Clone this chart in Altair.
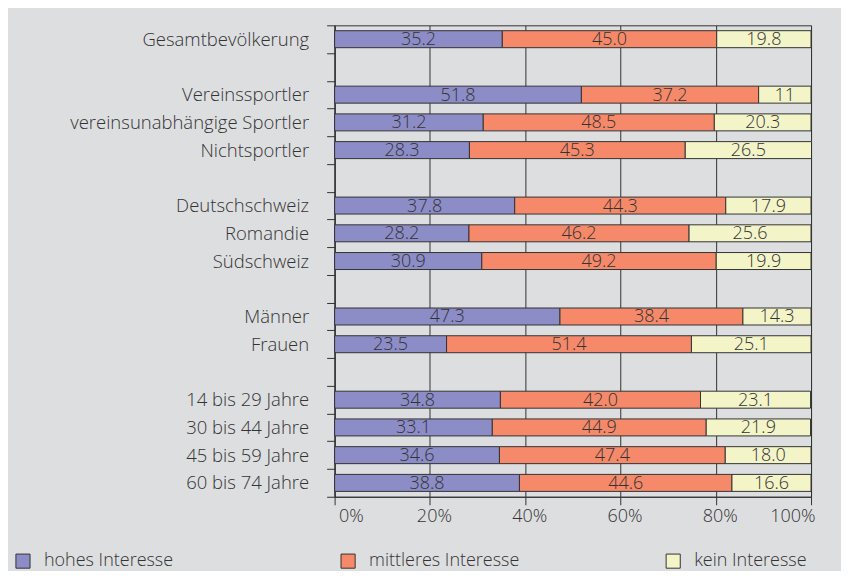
import altair as alt
import pandas as pd

categories = ["Gesamtbevölkerung", " ", "Vereinssportler", "vereinsunabhängige Sportler",
              "Nichtsportler", "  ", "Deutschschweiz", "Romandie", "Südschweiz", "   ",
              "Männer", "Frauen", "    ", "14 bis 29 Jahre", "30 bis 44 Jahre",
              "45 bis 59 Jahre", "60 bis 74 Jahre"]
series = ["hohes Interesse", "mittleres Interesse", "kein Interesse"]
hohes = ["35.2", "51.8", "31.2", "28.3", "37.8", "28.2", "30.9", "47.3", "23.5", "34.8", "33.1", "34.6", "38.8"]
mittleres = ["45.0", "37.2", "48.5", "45.3", "44.3", "46.2", "49.2", "38.4", "51.4", "42.0", "44.9", "47.4", "44.6"]
kein = ["19.8", "11", "20.3", "26.5", "17.9", "25.6", "19.9", "14.3", "25.1", "23.1", "21.9", "18.0", "16.6"]
colors = ["#8c8cc7", "#f6896a", "#f4f4c9"]
x_ticks = [0, 20, 40, 60, 80, 100]

rows = [c for c in categories if c.strip()]
recs = []
for s_i, (s, vals) in enumerate(zip(series, [hohes, mittleres, kein])):
    for cat, v in zip(rows, vals):
        recs.append({"cat": cat, "series": s, "order": s_i, "value": float(v), "label": v})
df = pd.DataFrame(recs)

txt = "#333333"
fnt = "Open Sans"
base = alt.Chart(df).transform_stack(
    stack="value", groupby=["cat"], as_=["x0", "x1"], sort=[alt.SortField("order")]
).transform_calculate(mid="(datum.x0 + datum.x1) / 2")

yenc = alt.Y("cat:N", sort=categories,
             scale=alt.Scale(domain=categories, paddingInner=0, paddingOuter=0),
             axis=alt.Axis(title=None, tickBand="extent", tickSize=8, labelPadding=18,
                           labelFontSize=18.5, labelColor=txt, domainColor=txt, tickColor=txt,
                           labelFont=fnt, labelFontWeight=300, labelLimit=320))

bars = base.mark_bar(size=17, stroke="#333333", strokeWidth=1).encode(
    x=alt.X("x0:Q", scale=alt.Scale(domain=[0, 100], nice=False),
            axis=alt.Axis(title=None, values=x_ticks, labelExpr="datum.value + '%'",
                          grid=True, gridColor="#333333", gridOpacity=1, tickSize=8,
                          labelFontSize=18, labelColor=txt, labelFont=fnt, labelFontWeight=300,
                          domainColor=txt, tickColor=txt, labelPadding=3, labelOffset=4)),
    x2="x1:Q",
    y=yenc,
    color=alt.Color("series:N", sort=series,
                    scale=alt.Scale(domain=series, range=colors),
                    legend=alt.Legend(title=None, orient="none", legendX=-321, legendY=527,
                                      direction="horizontal", columns=3, gridAlign="all",
                                      columnPadding=143.5, symbolType="square", symbolSize=200,
                                      symbolStrokeColor="#333333", symbolStrokeWidth=1,
                                      symbolOpacity=1, labelFontSize=18, labelColor=txt,
                                      labelFont=fnt, labelFontWeight=300, labelOffset=12,
                                      labelLimit=300)),
    order=alt.Order("order:Q"),
)

labels = base.mark_text(fontSize=18, color=txt, font=fnt, fontWeight=300, baseline="middle", dy=1).encode(
    x="mid:Q",
    y=alt.Y("cat:N", sort=categories),
    text="label:N",
)

chart = (bars + labels).properties(
    width=477, height=472,
    autosize=alt.AutoSizeParams(type="none"),
    padding={"left": 327, "top": 17, "right": 30, "bottom": 74},
    background="#dddee0",
).configure_view(stroke="#333333", fill="#dddee0")

chart.save("out.html", embed_options={"renderer": "svg", "actions": False})
